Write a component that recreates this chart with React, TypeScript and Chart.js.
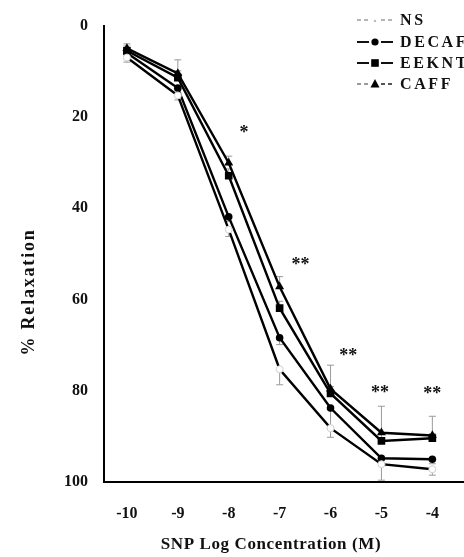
import React, { useEffect, useRef } from "react";
import { Chart, registerables } from "chart.js";

Chart.register(...registerables);

// ---- data ----
const concentrations = [-10, -9, -8, -7, -6, -5, -4];
const seriesNames = ["NS", "DECAF", "EEKNT", "CAFF"];
const nsValues = [7, 15.3, 44.7, 75.3, 88.2, 96.1, 97.2];
const decafValues = [6, 13.7, 41.9, 68.4, 83.8, 94.8, 95];
const eekntValues = [5.5, 11.4, 32.9, 61.9, 80.6, 91, 90.4];
const caffValues = [5, 10.5, 30.1, 57.2, 79.6, 89.2, 89.8];
const nsErrors = [1, 1, 1.5, 3.4, 2, 3.5, 1.3];
const decafErrors = [1, 1, 1, 1.5, 4.2, 1.5, 1];
const eekntErrors = [1, 1.5, 1.5, 1.5, 1.5, 1.5, 1];
const caffErrors = [1, 3, 1.5, 2.2, 5.2, 5.8, 4.2];
const xTicks = [-10, -9, -8, -7, -6, -5, -4];
const yTicks = [0, 20, 40, 60, 80, 100];
const starX = [-7.7, -6.59, -5.65, -5.03, -4.0];
const starY = [22.6, 51.6, 71.6, 79.6, 79.8];
const starText = ["*", "**", "**", "**", "**"];
const xTitle = "SNP Log Concentration (M)";
const yTitle = "% Relaxation";

const SERIF = "'Liberation Serif', 'Times New Roman', serif";

const toPoints = (vals: number[]) => vals.map((v, i) => ({ x: concentrations[i], y: v }));

const errorSets = [
  { values: nsValues, errors: nsErrors, dir: 1 },
  { values: decafValues, errors: decafErrors, dir: 1 },
  { values: eekntValues, errors: eekntErrors, dir: -1 },
  { values: caffValues, errors: caffErrors, dir: -1 },
];

const legendStyles = [
  { marker: "ns", left: "#b5b5b5", right: "#b5b5b5", dashed: true },
  { marker: "circle", left: "#111", right: "#111", dashed: false },
  { marker: "rect", left: "#111", right: "#111", dashed: false },
  { marker: "triangle", left: "#9a9a9a", right: "#555", dashed: true },
];

function drawMarker(ctx: CanvasRenderingContext2D, kind: string, x: number, y: number) {
  ctx.save();
  if (kind === "circle") {
    ctx.fillStyle = "#000";
    ctx.beginPath();
    ctx.arc(x, y, 3.6, 0, Math.PI * 2);
    ctx.fill();
  } else if (kind === "rect") {
    ctx.fillStyle = "#000";
    ctx.fillRect(x - 3.8, y - 3.8, 7.6, 7.6);
  } else if (kind === "triangle") {
    ctx.fillStyle = "#000";
    ctx.beginPath();
    ctx.moveTo(x, y - 5);
    ctx.lineTo(x + 4.5, y + 3.5);
    ctx.lineTo(x - 4.5, y + 3.5);
    ctx.closePath();
    ctx.fill();
  } else {
    ctx.fillStyle = "#bbb";
    ctx.beginPath();
    ctx.arc(x, y + 1, 1.2, 0, Math.PI * 2);
    ctx.fill();
  }
  ctx.restore();
}

const overlayPlugin = {
  id: "overlay",
  beforeDatasetsDraw(chart: any) {
    const { ctx, scales } = chart;
    const xs = scales.x;
    const ys = scales.y;
    ctx.save();
    ctx.strokeStyle = "#9a9a9a";
    ctx.lineWidth = 1;
    errorSets.forEach(({ values, errors, dir }) => {
      values.forEach((v, i) => {
        const px = xs.getPixelForValue(concentrations[i]);
        const p0 = ys.getPixelForValue(v);
        const p1 = ys.getPixelForValue(v + dir * errors[i]);
        ctx.beginPath();
        ctx.moveTo(px, p0);
        ctx.lineTo(px, p1);
        ctx.moveTo(px - 3.5, p1);
        ctx.lineTo(px + 3.5, p1);
        ctx.stroke();
      });
    });
    ctx.restore();
  },
  afterDraw(chart: any) {
    const { ctx, scales } = chart;
    const xs = scales.x;
    const ys = scales.y;

    // asterisks
    ctx.save();
    ctx.fillStyle = "#111";
    ctx.font = `bold 18px ${SERIF}`;
    ctx.textAlign = "center";
    ctx.textBaseline = "alphabetic";
    starText.forEach((t, i) => {
      ctx.fillText(t, xs.getPixelForValue(starX[i]), ys.getPixelForValue(starY[i]) + 9);
    });
    ctx.restore();

    // axis titles
    ctx.save();
    ctx.fillStyle = "#111";
    ctx.font = `bold 17px ${SERIF}`;
    (ctx as any).letterSpacing = "0.6px";
    ctx.textAlign = "center";
    ctx.textBaseline = "middle";
    ctx.fillText(xTitle, 271, 545);
    ctx.restore();

    ctx.save();
    ctx.fillStyle = "#111";
    ctx.font = `bold 18px ${SERIF}`;
    (ctx as any).letterSpacing = "1.8px";
    ctx.textAlign = "center";
    ctx.textBaseline = "middle";
    ctx.translate(29, 292);
    ctx.rotate(-Math.PI / 2);
    ctx.fillText(yTitle, 0, 0);
    ctx.restore();

    // legend
    const rowY = [20, 42, 63, 84];
    seriesNames.forEach((name, i) => {
      const st = legendStyles[i];
      const yy = rowY[i];
      ctx.save();
      ctx.lineWidth = 2;
      ctx.strokeStyle = st.left;
      if (st.dashed) ctx.setLineDash([4, 3]);
      ctx.beginPath();
      ctx.moveTo(357, yy);
      ctx.lineTo(369, yy);
      ctx.stroke();
      ctx.strokeStyle = st.right;
      ctx.beginPath();
      ctx.moveTo(381, yy);
      ctx.lineTo(393, yy);
      ctx.stroke();
      ctx.setLineDash([]);
      drawMarker(ctx, st.marker, 375, yy);
      ctx.fillStyle = "#111";
      ctx.font = `bold 16px ${SERIF}`;
      (ctx as any).letterSpacing = "2.6px";
      ctx.textAlign = "left";
      ctx.textBaseline = "middle";
      ctx.fillText(name, 400, yy + 1);
      ctx.restore();
    });
  },
};

export default function App() {
  const canvasRef = useRef<HTMLCanvasElement | null>(null);

  useEffect(() => {
    const canvas = canvasRef.current;
    if (!canvas) return;
    const lineBase = {
      borderColor: "#000",
      borderWidth: 2.4,
      tension: 0,
      fill: false,
      pointBorderColor: "#000",
      pointBackgroundColor: "#000",
      pointBorderWidth: 0,
    };
    const chart = new Chart(canvas, {
      type: "line",
      data: {
        datasets: [
          {
            ...lineBase,
            label: seriesNames[0],
            data: toPoints(nsValues),
            pointStyle: "circle",
            pointRadius: 3.5,
            pointBackgroundColor: "#fff",
            pointBorderColor: "#d0d0d0",
            pointBorderWidth: 1,
          },
          { ...lineBase, label: seriesNames[1], data: toPoints(decafValues), pointStyle: "circle", pointRadius: 3.8 },
          { ...lineBase, label: seriesNames[2], data: toPoints(eekntValues), pointStyle: "rect", pointRadius: 5.4 },
          { ...lineBase, label: seriesNames[3], data: toPoints(caffValues), pointStyle: "triangle", pointRadius: 5.2 },
        ],
      },
      options: {
        responsive: false,
        animation: false,
        events: [],
        layout: { padding: { left: 0, right: 0, top: 17, bottom: 0 } },
        plugins: {
          legend: { display: false },
          tooltip: { enabled: false },
          title: { display: false },
        },
        scales: {
          x: {
            type: "linear",
            min: -10.45,
            max: -3.17,
            grid: { display: false, drawTicks: false, tickLength: 0 },
            border: { display: true, color: "#000", width: 2 },
            afterBuildTicks: (s: any) => {
              s.ticks = xTicks.map((v) => ({ value: v }));
            },
            afterFit: (s: any) => {
              s.height = 75;
            },
            ticks: {
              color: "#111",
              font: { family: SERIF, size: 16, weight: "bold" },
              padding: 22,
              maxRotation: 0,
              autoSkip: false,
              callback: (v: any) => String(v),
            },
          },
          y: {
            type: "linear",
            reverse: true,
            min: 0,
            max: 100,
            grid: { display: false, drawTicks: false, tickLength: 0 },
            border: { display: true, color: "#000", width: 2 },
            afterBuildTicks: (s: any) => {
              s.ticks = yTicks.map((v) => ({ value: v }));
            },
            afterFit: (s: any) => {
              s.width = 104;
            },
            ticks: {
              color: "#111",
              font: { family: SERIF, size: 16, weight: "bold" },
              padding: 16,
              autoSkip: false,
              callback: (v: any) => String(v),
            },
          },
        },
      },
      plugins: [overlayPlugin],
    } as any);
    return () => chart.destroy();
  }, []);

  return (
    <div
      style={{
        position: "fixed",
        left: 0,
        top: 0,
        width: 464,
        height: 557,
        overflow: "hidden",
        background: "#fff",
      }}
    >
      <canvas ref={canvasRef} width={480} height={557} style={{ width: 480, height: 557, display: "block" }} />
    </div>
  );
}
